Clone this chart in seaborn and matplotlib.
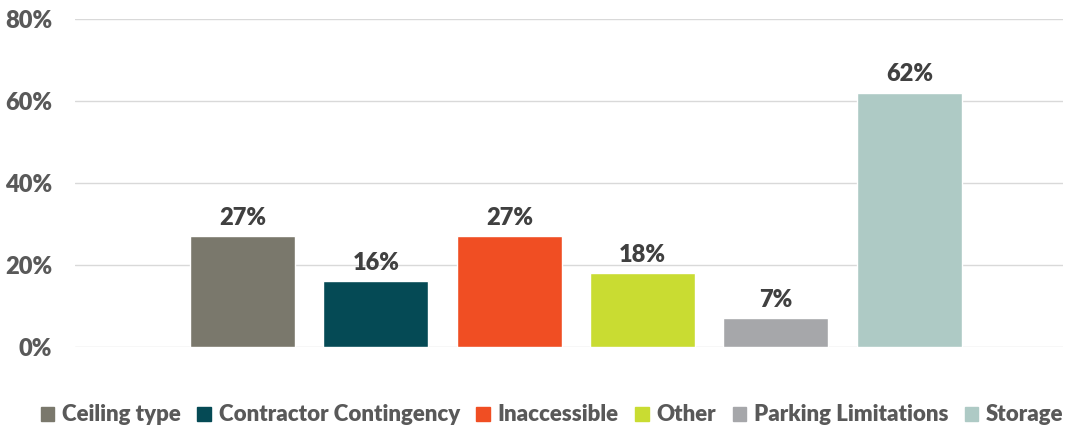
import matplotlib
matplotlib.use("Agg")
import matplotlib.pyplot as plt
import seaborn as sns
import pandas as pd

categories = ["Ceiling type", "Contractor Contingency", "Inaccessible",
              "Other", "Parking Limitations", "Storage"]
values = [27, 16, 27, 18, 7, 62]
colors = ["#7a786c", "#054a55", "#f04e23", "#c9dc32", "#a6a7aa", "#aecac5"]
y_ticks = [0, 20, 40, 60, 80]
y_tick_labels = ["0%", "20%", "40%", "60%", "80%"]

sns.set_theme(style="white")
plt.rcParams["font.family"] = ["Lato", "DejaVu Sans"]
plt.rcParams["font.weight"] = "bold"

df = pd.DataFrame({"cause": categories, "share": values})

fig = plt.figure(figsize=(10.66, 4.30), dpi=100)
ax = fig.add_axes([0.0704, 0.193, 0.927, 0.763])

sns.barplot(data=df, x="cause", y="share", hue="cause", palette=colors,
            width=0.787, dodge=False, legend=False, ax=ax, saturation=1)

ax.set_ylim(0, 80)
ax.set_xlim(-1.256, 6.154)
ax.set_yticks(y_ticks)
ax.set_yticklabels(y_tick_labels)
ax.set_xticks([])
ax.set_xlabel("")
ax.set_ylabel("")
ax.yaxis.grid(True, color="#d9d9d9", linewidth=1.0)
ax.set_axisbelow(True)
for s in ax.spines.values():
    s.set_visible(False)
ax.tick_params(axis="y", length=0, pad=16.5, labelsize=17, labelcolor="#595959")
for lab in ax.get_yticklabels():
    lab.set_fontweight("heavy")

# value labels above each bar
for patch, v in zip(ax.patches, values):
    ax.text(patch.get_x() + patch.get_width() / 2, patch.get_height() + 1.8,
            f"{v}%", ha="center", va="bottom", fontsize=17,
            fontweight="heavy", color="#404040")

handles = [plt.Rectangle((0, 0), 1, 1, color=c) for c in colors]
leg = fig.legend(handles, categories, loc="center", bbox_to_anchor=(0.518, 0.035),
                 ncol=6, frameon=False, handlelength=0.6, handleheight=0.6,
                 handletextpad=0.35, columnspacing=0.75, fontsize=16)
for t in leg.get_texts():
    t.set_color("#595959")
    t.set_fontweight("heavy")

fig.savefig("out.png", dpi=100)
